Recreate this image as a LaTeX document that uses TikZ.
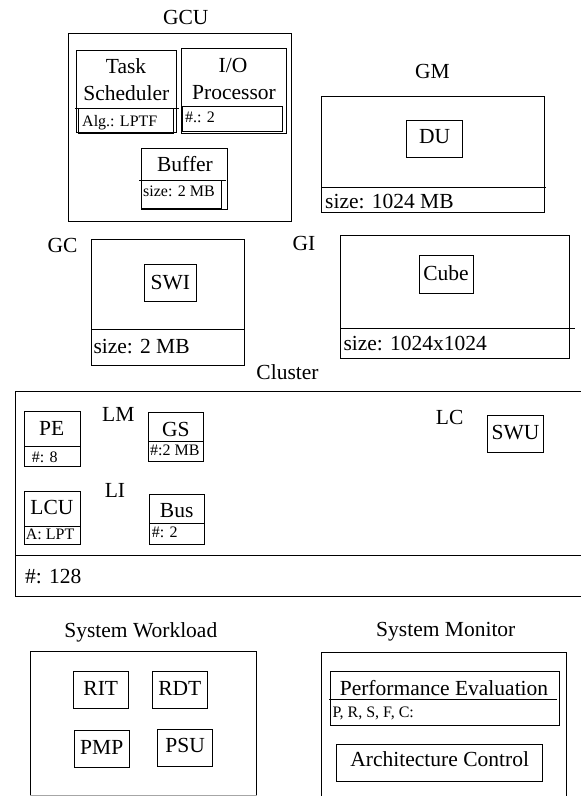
\documentclass[tikz,border=0pt]{standalone}
\usepackage{fontspec}
\setmainfont{Liberation Serif}
\begin{document}
\begin{tikzpicture}[x=1pt,y=-1pt,
 box/.style={draw,line width=1pt},
 big/.style={font=\fontsize{21.5}{24}\selectfont,inner sep=0pt,anchor=base},
 bigl/.style={font=\fontsize{21.5}{24}\selectfont,inner sep=0pt,anchor=base west},
 small/.style={font=\fontsize{16}{18}\selectfont,inner sep=0pt,anchor=base west},
 ]
\useasboundingbox[fill=white] (0,0) rectangle (581,796);

% GCU
\node[big] (gcuT) at (185.8,24.3) {GCU};
\draw[box] (68.3,33.3) rectangle (291,221);
\draw[box] (76.7,50.7) rectangle (176.7,132.3);
\draw[box] (75,108.3) -- (179.3,108.3);
\draw[box] (78.3,108) rectangle (173.3,133.3);
\node[big] (task) at (126,73.3) {Task};
\node[big] (sched) at (126.3,100) {Scheduler};
\node[small] (alg) at (82,126) {Alg.: LPTF};
\draw[box] (181,48.3) rectangle (286.7,133.3);
\draw[box] (182.7,106) rectangle (282.3,131.7);
\node[big] (io) at (233,72.7) {I/O};
\node[big] (proc) at (234,99) {Processor};
\node[small] (ion) at (185,122.7) {\#.: 2};
\draw[box] (141,148.3) rectangle (227.7,209.3);
\draw[box] (139,180.7) -- (225.7,180.7);
\draw[box] (141.7,180) rectangle (221,208.3);
\node[big] (buf) at (185,171) {Buffer};
\node[small] (bufs) at (143,196.7) {size: 2 MB};

% GM
\node[big] (gmT) at (432.5,78.3) {GM};
\draw[box] (321.7,96) rectangle (544.3,212.7);
\draw[box] (321.7,187.3) -- (546,187.3);
\draw[box] (406.7,120.7) rectangle (462.7,157.7);
\node[big] (du) at (434.7,143.3) {DU};
\node[bigl] (gms) at (325,208.3) {size: 1024 MB};

% GC
\node[big] (gcT) at (62.5,252.7) {GC};
\draw[box] (91.7,239) rectangle (244.3,365);
\draw[box] (91.7,329) -- (244.3,329);
\draw[box] (144,264.3) rectangle (196.7,301.7);
\node[big] (swi) at (170.3,289) {SWI};
\node[bigl] (gcs) at (93.3,353.3) {size: 2 MB};

% GI
\node[big] (giT) at (304,250) {GI};
\draw[box] (340.7,235.7) rectangle (569,358.3);
\draw[box] (340.7,328.3) -- (575,328.3);
\draw[box] (419,255.7) rectangle (473.3,293.3);
\node[big] (cube) at (446,280) {Cube};
\node[bigl] (gis) at (343.3,350) {size: 1024x1024};

% Cluster
\node[big] (clT) at (287.5,379.3) {Cluster};
\draw[box] (15,391.7) -- (584,391.7);
\draw[box] (15,391.7) -- (15,596) -- (584,596);
\draw[box] (15,555) -- (584,555);
\draw[box] (24,411.7) rectangle (80,466);
\draw[box] (24,446.7) -- (80,446.7);
\node[big] (pe) at (51.7,435) {PE};
\node[small] (pen) at (31.7,462.7) {\#: 8};
\node[big] (lm) at (118.3,421) {LM};
\draw[box] (148.3,412.7) rectangle (203.3,461.7);
\draw[box] (148.3,441.7) -- (203.3,441.7);
\node[big] (gs) at (175.8,436) {GS};
\node[small] (gsn) at (150,455.7) {\#:2 MB};
\node[big] (li) at (115,497.7) {LI};
\draw[box] (24,491.7) rectangle (80,544);
\draw[box] (24,526.7) -- (80,526.7);
\node[big] (lcu) at (52,514) {LCU};
\node[small] (lcua) at (25.7,539.3) {A: LPT};
\draw[box] (149,494.3) rectangle (204.3,544.3);
\draw[box] (149,523.3) -- (204.3,523.3);
\node[big] (bus) at (176.7,517.3) {Bus};
\node[small] (busn) at (151.7,537.7) {\#: 2};
\node[bigl] (cln) at (25,583.3) {\#: 128};
\node[big] (lc) at (449.7,424.3) {LC};
\draw[box] (487.7,415) rectangle (543.3,452.3);
\node[big] (swu) at (515.5,439) {SWU};

% System Workload
\node[big] (swT) at (140.8,637.3) {System Workload};
\draw[box] (30,798) -- (30,651) -- (256.7,651) -- (256.7,798);
\draw[line width=1pt,black!35] (30,795.6) -- (256.7,795.6);
\draw[box] (73.3,671) rectangle (128.3,708.3);
\node[big] (rit) at (100.8,695) {RIT};
\draw[box] (152.3,671) rectangle (207.3,708.3);
\node[big] (rdt) at (179.8,695) {RDT};
\draw[box] (74,730.7) rectangle (129.3,767.3);
\node[big] (pmp) at (101.7,754) {PMP};
\draw[box] (157.7,729.3) rectangle (212.7,766);
\node[big] (psu) at (185.2,752.7) {PSU};

% System Monitor
\node[big] (smT) at (445.8,636) {System Monitor};
\draw[box] (321.7,798) -- (321.7,652.7) -- (566.7,652.7) -- (566.7,798);
\draw[box] (330,671.7) rectangle (559,725);
\draw[box] (329.3,699) -- (556.7,699);
\node[big] (pev) at (444,695.7) {Performance Evaluation};
\node[small] (prs) at (332.3,717.7) {P, R, S, F, C:};
\draw[box] (336.7,744.3) rectangle (542.7,781);
\node[big] (arc) at (439.7,766.7) {Architecture Control};
\end{tikzpicture}
\end{document}
